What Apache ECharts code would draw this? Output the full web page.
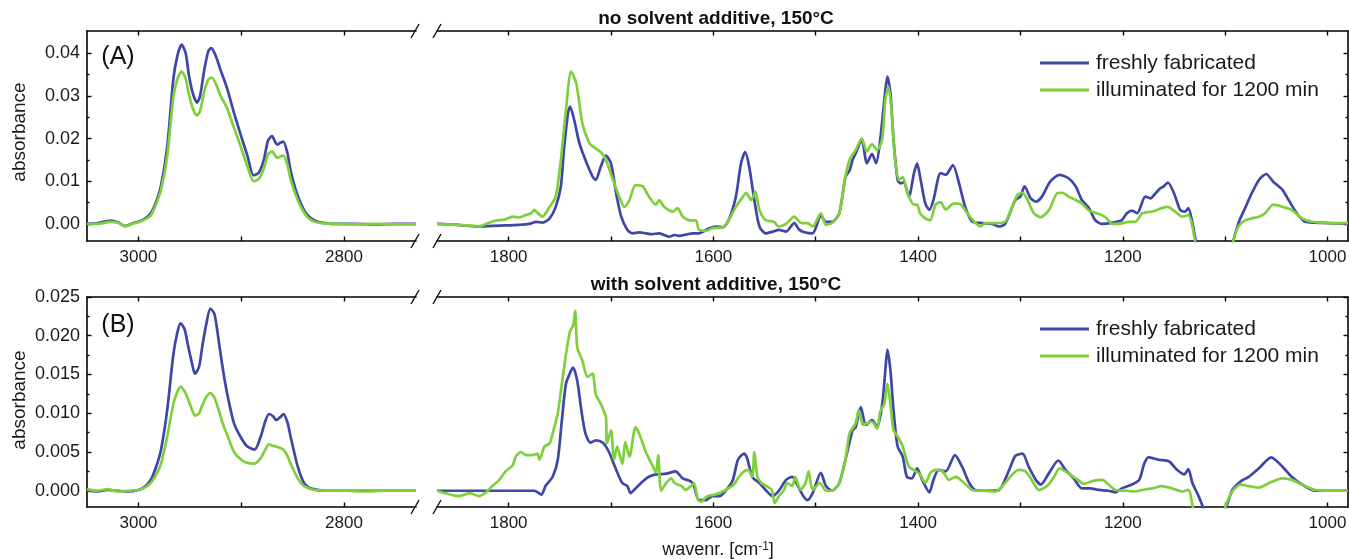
<!DOCTYPE html>
<html><head><meta charset="utf-8">
<script src="https://cdn.jsdelivr.net/npm/echarts@6/dist/echarts.min.js"></script>
<style>html,body{margin:0;padding:0;background:#fff}#c{width:1349px;height:559px}</style>
</head><body><div id="c"></div>
<script>
// ---------- DATA ----------
const seriesNames = ['freshly fabricated', 'illuminated for 1200 min'];
const panelTitles = ['no solvent additive, 150°C', 'with solvent additive, 150°C'];
const panelTags = ['(A)', '(B)'];

// tick labels
const leftTicks = [3000, 2900, 2800];
const leftLabels = [3000, 2800];
const rightTicks = [1800, 1700, 1600, 1500, 1400, 1300, 1200, 1100, 1000];
const rightLabels = [1800, 1600, 1400, 1200, 1000];
const aYMajor = [0, 0.01, 0.02, 0.03, 0.04];
const aYMinor = [0.005, 0.015, 0.025, 0.035];
const bYMajor = [0, 0.005, 0.01, 0.015, 0.02, 0.025];
const bYMinor = [0.0025, 0.0075, 0.0125, 0.0175, 0.0225];

// Panel A, left segment (C-H region)
const aLeftWn = [3050,3040,3027,3020,3013,3005,3000,2994,2988,2983,2978,2972,2966,2962,2958,2954,2951,2947,2943,2940,2936,2932,2929,2925,2920,2914,2907,2900,2894,2888,2883,2878,2874,2870,2867,2865,2862,2859,2855,2852,2847,2842,2837,2832,2827,2822,2810,2790,2770,2750,2730];
const aLeftFresh = [0.0000,0.0002,0.0008,0.0004,-0.0005,0.0002,0.0005,0.0012,0.0025,0.0050,0.0090,0.0180,0.0340,0.0395,0.0420,0.0400,0.0350,0.0305,0.0284,0.0300,0.0360,0.0405,0.0412,0.0395,0.0360,0.0320,0.0260,0.0205,0.0160,0.0114,0.0120,0.0150,0.0195,0.0206,0.0192,0.0186,0.0190,0.0193,0.0165,0.0125,0.0080,0.0048,0.0025,0.0013,0.0006,0.0003,0.0000,0.0000,-0.0001,0.0000,0.0000];
const aLeftIllum = [0.0000,0.0000,0.0005,0.0003,-0.0005,0.0001,0.0004,0.0010,0.0020,0.0045,0.0080,0.0158,0.0298,0.0340,0.0357,0.0340,0.0305,0.0270,0.0254,0.0265,0.0310,0.0338,0.0343,0.0330,0.0300,0.0272,0.0225,0.0178,0.0135,0.0100,0.0105,0.0130,0.0162,0.0170,0.0160,0.0155,0.0158,0.0160,0.0138,0.0105,0.0068,0.0040,0.0020,0.0009,0.0004,0.0002,0.0000,-0.0001,0.0000,-0.0001,-0.0001];

// Panel A, right segment (fingerprint region)
const aRightFreshWn = [1870,1850,1830,1810,1790,1780,1773,1767,1760,1754,1749,1746,1742,1740,1736,1731,1725,1718,1715,1710,1705,1700,1695,1690,1684,1679,1672,1666,1660,1653,1648,1643,1638,1633,1627,1620,1614,1604,1598,1591,1585,1578,1573,1569,1565,1560,1555,1549,1542,1536,1529,1521,1516,1510,1503,1495,1490,1484,1477,1471,1467,1464,1461,1455,1450,1445,1441,1437,1433,1430,1427,1424,1420,1417,1414,1409,1404,1401,1398,1393,1389,1385,1378,1373,1366,1360,1354,1347,1337,1328,1321,1315,1305,1300,1296,1290,1285,1279,1271,1262,1253,1246,1240,1233,1227,1220,1210,1201,1196,1191,1186,1178,1173,1168,1163,1160,1156,1150,1144,1139,1136,1132,1128,1120,1110,1100,1093,1087,1080,1074,1067,1060,1053,1044,1038,1030,1022,1012,999,990,980];
const aRightFresh = [0,-0.0002,-0.0006,-0.0004,-0.0002,0.0000,0.0005,0.0003,0.0013,0.0040,0.0088,0.0173,0.0260,0.0275,0.0244,0.0190,0.0150,0.0111,0.0103,0.0134,0.0160,0.0142,0.0072,0.0017,-0.0014,-0.0022,-0.0020,-0.0022,-0.0024,-0.0022,-0.0026,-0.0030,-0.0026,-0.0028,-0.0025,-0.0022,-0.0022,-0.0010,-0.0006,-0.0008,0.0009,0.0064,0.0142,0.0168,0.0134,0.0056,-0.0006,-0.0022,-0.0018,-0.0014,-0.0018,0.0002,-0.0014,-0.0020,-0.0022,0.0019,0.0005,0.0005,0.0025,0.0110,0.0125,0.0150,0.0165,0.0197,0.0142,0.0164,0.0142,0.0197,0.0290,0.0345,0.0306,0.0197,0.0103,0.0095,0.0098,0.0064,0.0119,0.0142,0.0110,0.0048,0.0033,0.0056,0.0119,0.0115,0.0138,0.0095,0.0040,0.0005,0.0002,0.0000,-0.0006,0.0000,0.0056,0.0064,0.0088,0.0060,0.0052,0.0064,0.0099,0.0115,0.0107,0.0088,0.0056,0.0037,0.0009,0.0000,0.0003,0.0009,0.0025,0.0031,0.0025,0.0064,0.0060,0.0072,0.0084,0.0088,0.0097,0.0072,0.0033,0.0029,0.0037,0.0002,-0.0050,-0.0150,-0.0200,-0.0150,-0.0050,0.0002,0.0040,0.0072,0.0103,0.0117,0.0099,0.0080,0.0056,0.0025,0.0005,0.0003,0.0002,0.0001,0.0000];
const aRightIllumWn = [1870,1850,1835,1829,1820,1812,1804,1796,1790,1783,1778,1775,1773,1767,1760,1754,1749,1744,1739,1734,1728,1721,1715,1710,1705,1698,1692,1687,1682,1676,1669,1663,1656,1653,1648,1640,1635,1630,1624,1617,1614,1607,1601,1591,1585,1578,1571,1568,1563,1559,1555,1549,1541,1536,1529,1521,1514,1508,1503,1495,1490,1484,1477,1471,1467,1461,1455,1450,1445,1440,1435,1432,1429,1426,1423,1419,1415,1412,1409,1404,1401,1398,1393,1388,1383,1378,1373,1365,1358,1352,1345,1339,1334,1324,1315,1308,1303,1298,1293,1287,1280,1272,1264,1259,1253,1246,1240,1233,1225,1217,1210,1204,1194,1188,1181,1171,1162,1156,1149,1142,1136,1132,1128,1120,1110,1100,1093,1087,1080,1074,1067,1061,1053,1044,1035,1025,1015,999,980];
const aRightIllum = [0,-0.0002,-0.0004,-0.0006,0.0002,0.0008,0.0010,0.0017,0.0015,0.0021,0.0025,0.0033,0.0029,0.0017,0.0040,0.0064,0.0150,0.0267,0.0357,0.0330,0.0236,0.0189,0.0177,0.0168,0.0150,0.0103,0.0064,0.0040,0.0056,0.0091,0.0088,0.0064,0.0045,0.0056,0.0040,0.0029,0.0037,0.0017,0.0009,0.0008,-0.0014,-0.0016,-0.0010,-0.0008,0.0009,0.0040,0.0064,0.0072,0.0056,0.0076,0.0033,0.0009,0.0005,-0.0006,0.0000,0.0017,0.0002,0.0002,-0.0006,0.0025,-0.0002,0.0002,0.0025,0.0110,0.0150,0.0173,0.0200,0.0170,0.0187,0.0173,0.0200,0.0290,0.0322,0.0267,0.0166,0.0103,0.0110,0.0088,0.0064,0.0045,0.0045,0.0025,0.0013,0.0009,0.0045,0.0051,0.0034,0.0048,0.0045,0.0025,0.0005,-0.0006,0.0002,0.0002,0.0005,0.0040,0.0068,0.0073,0.0056,0.0025,0.0016,0.0033,0.0072,0.0073,0.0064,0.0056,0.0048,0.0031,0.0025,0.0016,0.0000,0.0000,0.0005,0.0005,0.0025,0.0029,0.0037,0.0040,0.0029,0.0017,0.0021,-0.0006,-0.0060,-0.0150,-0.0200,-0.0150,-0.0050,-0.0006,0.0009,0.0013,0.0017,0.0025,0.0045,0.0040,0.0033,0.0013,0.0005,0.0002,0.0002];

// Panel B, left segment
const bLeftWn = [3050,3040,3030,3020,3010,3000,2994,2988,2983,2978,2972,2966,2962,2959,2955,2952,2948,2945,2941,2938,2934,2930,2926,2921,2917,2913,2907,2900,2894,2887,2881,2877,2873,2869,2866,2862,2859,2855,2852,2845,2839,2834,2829,2820,2800,2780,2760,2740,2730];
const bLeftFresh = [0.0000,-0.0001,0.0001,0.0000,-0.0001,0.0001,0.0005,0.0014,0.0030,0.0053,0.0104,0.0176,0.0205,0.0216,0.0208,0.0189,0.0165,0.0151,0.0160,0.0185,0.0215,0.0235,0.0228,0.0185,0.0150,0.0121,0.0087,0.0068,0.0057,0.0053,0.0070,0.0088,0.0099,0.0096,0.0091,0.0095,0.0099,0.0088,0.0070,0.0031,0.0010,0.0004,0.0002,0.0000,0.0000,0.0000,0.0000,0.0000,0.0000];
const bLeftIllum = [0.0002,0.0000,0.0002,-0.0001,0.0000,0.0001,0.0004,0.0010,0.0020,0.0035,0.0070,0.0112,0.0128,0.0134,0.0128,0.0119,0.0105,0.0097,0.0100,0.0110,0.0121,0.0126,0.0120,0.0100,0.0083,0.0070,0.0050,0.0040,0.0036,0.0035,0.0042,0.0052,0.0060,0.0058,0.0057,0.0055,0.0053,0.0045,0.0035,0.0016,0.0006,0.0003,0.0001,0.0000,0.0000,-0.0001,0.0000,0.0000,0.0000];

// Panel B, right segment
const bRightFreshWn = [1870,1850,1830,1810,1790,1775,1768,1764,1757,1752,1748,1744,1739,1737,1733,1729,1725,1720,1715,1708,1702,1695,1689,1684,1681,1676,1669,1663,1656,1646,1637,1630,1622,1619,1614,1607,1601,1594,1588,1581,1576,1570,1567,1562,1555,1549,1542,1536,1529,1523,1517,1512,1508,1503,1495,1490,1484,1477,1471,1464,1461,1456,1451,1445,1440,1435,1432,1430,1427,1424,1420,1415,1411,1406,1401,1396,1389,1385,1380,1373,1364,1357,1350,1344,1331,1321,1311,1305,1298,1292,1285,1280,1272,1263,1256,1248,1240,1232,1223,1214,1207,1201,1191,1184,1179,1175,1165,1155,1147,1140,1136,1132,1126,1119,1110,1101,1093,1085,1077,1067,1055,1044,1035,1025,1012,999,980];
const bRightFresh = [0,0,0,0,0,0,-0.0005,0.0006,0.0018,0.0040,0.0091,0.0138,0.0155,0.0159,0.0142,0.0104,0.0074,0.0062,0.0065,0.0062,0.0050,0.0027,0.0010,0.0006,-0.0003,0.0003,0.0012,0.0018,0.0021,0.0022,0.0025,0.0016,0.0012,0.0006,-0.0012,-0.0012,-0.0007,-0.0007,0.0000,0.0014,0.0040,0.0048,0.0042,0.0018,0.0010,0.0001,-0.0007,0.0000,0.0014,0.0018,0.0005,-0.0007,-0.0012,-0.0003,0.0023,0.0006,0.0000,0.0010,0.0040,0.0078,0.0082,0.0108,0.0085,0.0091,0.0082,0.0112,0.0155,0.0182,0.0155,0.0104,0.0057,0.0044,0.0018,0.0016,0.0029,0.0014,-0.0002,0.0014,0.0027,0.0025,0.0046,0.0031,0.0010,0.0001,0.0000,0.0001,0.0027,0.0045,0.0048,0.0031,0.0014,0.0008,0.0023,0.0039,0.0027,0.0016,0.0003,0.0003,0.0001,0.0000,-0.0002,0.0003,0.0008,0.0014,0.0035,0.0043,0.0040,0.0038,0.0027,0.0021,0.0028,0.0010,-0.0007,-0.0030,-0.0060,-0.0030,0.0001,0.0012,0.0018,0.0029,0.0043,0.0031,0.0018,0.0008,0.0000,0.0000,0.0000];
const bRightIllumWn = [1870,1848,1838,1829,1822,1816,1809,1803,1796,1793,1788,1783,1777,1772,1770,1765,1760,1757,1752,1748,1744,1740,1737,1735,1733,1728,1723,1718,1715,1710,1705,1704,1700,1697,1694,1689,1686,1682,1676,1672,1666,1659,1656,1654,1651,1646,1641,1638,1631,1627,1622,1619,1615,1612,1606,1598,1588,1580,1575,1570,1566,1562,1560,1557,1553,1548,1543,1540,1536,1531,1528,1523,1520,1515,1510,1507,1503,1496,1490,1484,1477,1471,1467,1461,1458,1454,1450,1445,1440,1437,1433,1430,1427,1424,1420,1415,1409,1402,1398,1393,1388,1383,1376,1370,1363,1355,1347,1337,1324,1315,1308,1302,1295,1289,1282,1274,1267,1262,1254,1246,1238,1228,1220,1214,1207,1197,1188,1181,1171,1162,1152,1142,1136,1131,1125,1110,1101,1093,1085,1077,1067,1057,1044,1035,1022,1012,999,980];
const bRightIllum = [0,-0.0007,-0.0003,-0.0007,-0.0002,0.0006,0.0014,0.0025,0.0033,0.0044,0.0050,0.0046,0.0046,0.0048,0.0040,0.0057,0.0061,0.0074,0.0100,0.0138,0.0176,0.0206,0.0213,0.0232,0.0185,0.0168,0.0147,0.0151,0.0125,0.0112,0.0095,0.0061,0.0078,0.0040,0.0057,0.0035,0.0063,0.0044,0.0082,0.0072,0.0050,0.0031,0.0023,0.0046,0.0000,0.0010,0.0016,0.0010,0.0006,0.0001,0.0006,0.0010,-0.0012,-0.0014,-0.0007,-0.0005,0.0001,0.0008,0.0018,0.0025,0.0027,0.0018,0.0050,0.0018,0.0010,0.0006,0.0001,-0.0016,-0.0007,0.0001,0.0010,0.0006,0.0018,0.0001,0.0010,0.0025,0.0001,0.0010,0.0000,0.0000,0.0010,0.0040,0.0074,0.0087,0.0104,0.0085,0.0087,0.0089,0.0080,0.0102,0.0112,0.0138,0.0112,0.0078,0.0070,0.0057,0.0031,0.0025,0.0021,0.0010,0.0023,0.0027,0.0025,0.0014,0.0018,0.0010,0.0001,0.0000,-0.0001,0.0010,0.0021,0.0027,0.0025,0.0014,0.0001,0.0006,0.0018,0.0029,0.0023,0.0016,0.0009,0.0013,0.0014,0.0008,0.0001,0.0000,-0.0001,0.0001,0.0003,0.0006,0.0003,-0.0001,0.0001,-0.0025,-0.0050,-0.0070,-0.0025,-0.0001,0.0008,0.0006,0.0004,0.0010,0.0016,0.0014,0.0006,0.0001,0.0000,0.0000];

// ---------- CHART ----------
const FONT = '"Liberation Sans", Arial, Helvetica, sans-serif';
const BLUE = '#3F47A6', GREEN = '#7DD03B';
const AX = '#000';

const grids = [
  {left: 87, top: 31, width: 329, height: 210, outerBoundsMode: 'none', containLabel: false},
  {left: 437, top: 31, width: 911, height: 210, outerBoundsMode: 'none', containLabel: false},
  {left: 87, top: 297, width: 329, height: 210, outerBoundsMode: 'none', containLabel: false},
  {left: 437, top: 297, width: 911, height: 210, outerBoundsMode: 'none', containLabel: false}
];

function xAx(gi, min, max, pos, ticks, labels) {
  return {
    type: 'value', gridIndex: gi, position: pos, min: min, max: max, inverse: true,
    axisLine: {show: true, onZero: false, lineStyle: {color: AX, width: 1.6}},
    axisTick: {show: true, inside: true, length: 4.5, customValues: ticks, lineStyle: {color: AX, width: 1.4}},
    axisLabel: {show: pos === 'bottom', customValues: labels, margin: 8, fontSize: 17, color: '#1a1a1a', fontFamily: FONT,
      formatter: function (v) { return String(Math.round(v)); }},
    splitLine: {show: false}, minorTick: {show: false}
  };
}
function yAx(gi, min, max, pos, ticks, major, showLabel, dec) {
  return {
    type: 'value', gridIndex: gi, position: pos, min: min, max: max,
    axisLine: {show: major, onZero: false, lineStyle: {color: AX, width: 1.6}},
    axisTick: {show: true, inside: true, length: major ? 4.5 : 2.5, customValues: ticks, lineStyle: {color: AX, width: 1.4}},
    axisLabel: {show: showLabel, customValues: ticks, margin: 7, fontSize: 18, color: '#1a1a1a', fontFamily: FONT,
      formatter: function (v) { return Number(v).toFixed(dec); }},
    splitLine: {show: false}
  };
}

const A_MIN = -0.004, A_MAX = 0.0452, B_MIN = -0.0021, B_MAX = 0.025;
const xAxes = [
  xAx(0, 2730, 3050, 'bottom', leftTicks, leftLabels),
  xAx(0, 2730, 3050, 'top', leftTicks, leftLabels),
  xAx(1, 980, 1870, 'bottom', rightTicks, rightLabels),
  xAx(1, 980, 1870, 'top', rightTicks, rightLabels),
  xAx(2, 2730, 3050, 'bottom', leftTicks, leftLabels),
  xAx(2, 2730, 3050, 'top', leftTicks, leftLabels),
  xAx(3, 980, 1870, 'bottom', rightTicks, rightLabels),
  xAx(3, 980, 1870, 'top', rightTicks, rightLabels)
];
const yAxes = [
  yAx(0, A_MIN, A_MAX, 'left', aYMajor, true, true, 2),
  yAx(0, A_MIN, A_MAX, 'left', aYMinor, false, false, 2),
  yAx(1, A_MIN, A_MAX, 'right', aYMajor, true, false, 2),
  yAx(1, A_MIN, A_MAX, 'right', aYMinor, false, false, 2),
  yAx(2, B_MIN, B_MAX, 'left', bYMajor, true, true, 3),
  yAx(2, B_MIN, B_MAX, 'left', bYMinor, false, false, 3),
  yAx(3, B_MIN, B_MAX, 'right', bYMajor, true, false, 3),
  yAx(3, B_MIN, B_MAX, 'right', bYMinor, false, false, 3)
];

function line(name, color, xi, yi, wn, vals) {
  return {
    type: 'line', name: name, xAxisIndex: xi, yAxisIndex: yi,
    data: wn.map(function (w, i) { return [w, vals[i]]; }),
    showSymbol: false, symbol: 'none', smooth: 0.25, clip: true,
    color: color, itemStyle: {color: color}, lineStyle: {color: color, width: 2.7},
    emphasis: {disabled: true}, animation: false
  };
}
const series = [
  line(seriesNames[0], BLUE, 0, 0, aLeftWn, aLeftFresh),
  line(seriesNames[0], BLUE, 2, 2, aRightFreshWn, aRightFresh),
  line(seriesNames[0], BLUE, 4, 4, bLeftWn, bLeftFresh),
  line(seriesNames[0], BLUE, 6, 6, bRightFreshWn, bRightFresh),
  line(seriesNames[1], GREEN, 0, 0, aLeftWn, aLeftIllum),
  line(seriesNames[1], GREEN, 2, 2, aRightIllumWn, aRightIllum),
  line(seriesNames[1], GREEN, 4, 4, bLeftWn, bLeftIllum),
  line(seriesNames[1], GREEN, 6, 6, bRightIllumWn, bRightIllum)
];

function legend(top) {
  return {
    data: seriesNames, orient: 'vertical', left: 1035, top: top,
    icon: 'rect', itemWidth: 49, itemHeight: 3, itemGap: 5,
    textStyle: {fontSize: 21, lineHeight: 22, color: '#1a1a1a', fontFamily: FONT, padding: [0, 0, 0, 2]},
    selectedMode: false
  };
}

const graphic = [];
// panel titles
[[716, 19, panelTitles[0]], [716, 285, panelTitles[1]]].forEach(function (t) {
  graphic.push({type: 'text', x: t[0], y: t[1], style: {text: t[2], font: 'bold 19px ' + FONT, fill: '#111', textAlign: 'center', textVerticalAlign: 'middle'}});
});
// panel tags
[[118, 57, panelTags[0]], [118, 325, panelTags[1]]].forEach(function (t) {
  graphic.push({type: 'text', x: t[0], y: t[1], style: {text: t[2], font: '25px ' + FONT, fill: '#111', textAlign: 'center', textVerticalAlign: 'middle'}});
});
// y-axis names
[132, 400].forEach(function (cy) {
  graphic.push({type: 'text', x: 20, y: cy, rotation: Math.PI / 2, style: {text: 'absorbance', font: '19px ' + FONT, fill: '#1a1a1a', textAlign: 'center', textVerticalAlign: 'middle'}});
});
// x-axis name
graphic.push({type: 'text', x: 718, y: 550, style: {
  text: 'wavenr. [cm{sup|-1}]', font: '18px ' + FONT, fill: '#1a1a1a', textAlign: 'center', textVerticalAlign: 'middle',
  rich: {sup: {fontSize: 12, fontFamily: FONT, verticalAlign: 'top', lineHeight: 12, fill: '#1a1a1a'}}
}});
// axis-break slashes
[31, 241, 297, 507].forEach(function (ay) {
  [415, 437].forEach(function (ax) {
    graphic.push({type: 'line', shape: {x1: ax - 4, y1: ay + 7, x2: ax + 4, y2: ay - 7}, style: {stroke: '#000', lineWidth: 1.3}});
  });
});

const chart = echarts.init(document.getElementById('c'), null, {renderer: 'canvas'});
chart.setOption({
  animation: false,
  backgroundColor: '#fff',
  grid: grids,
  xAxis: xAxes,
  yAxis: yAxes,
  legend: [legend(47), legend(313)],
  series: series,
  graphic: graphic
});
</script></body></html>
